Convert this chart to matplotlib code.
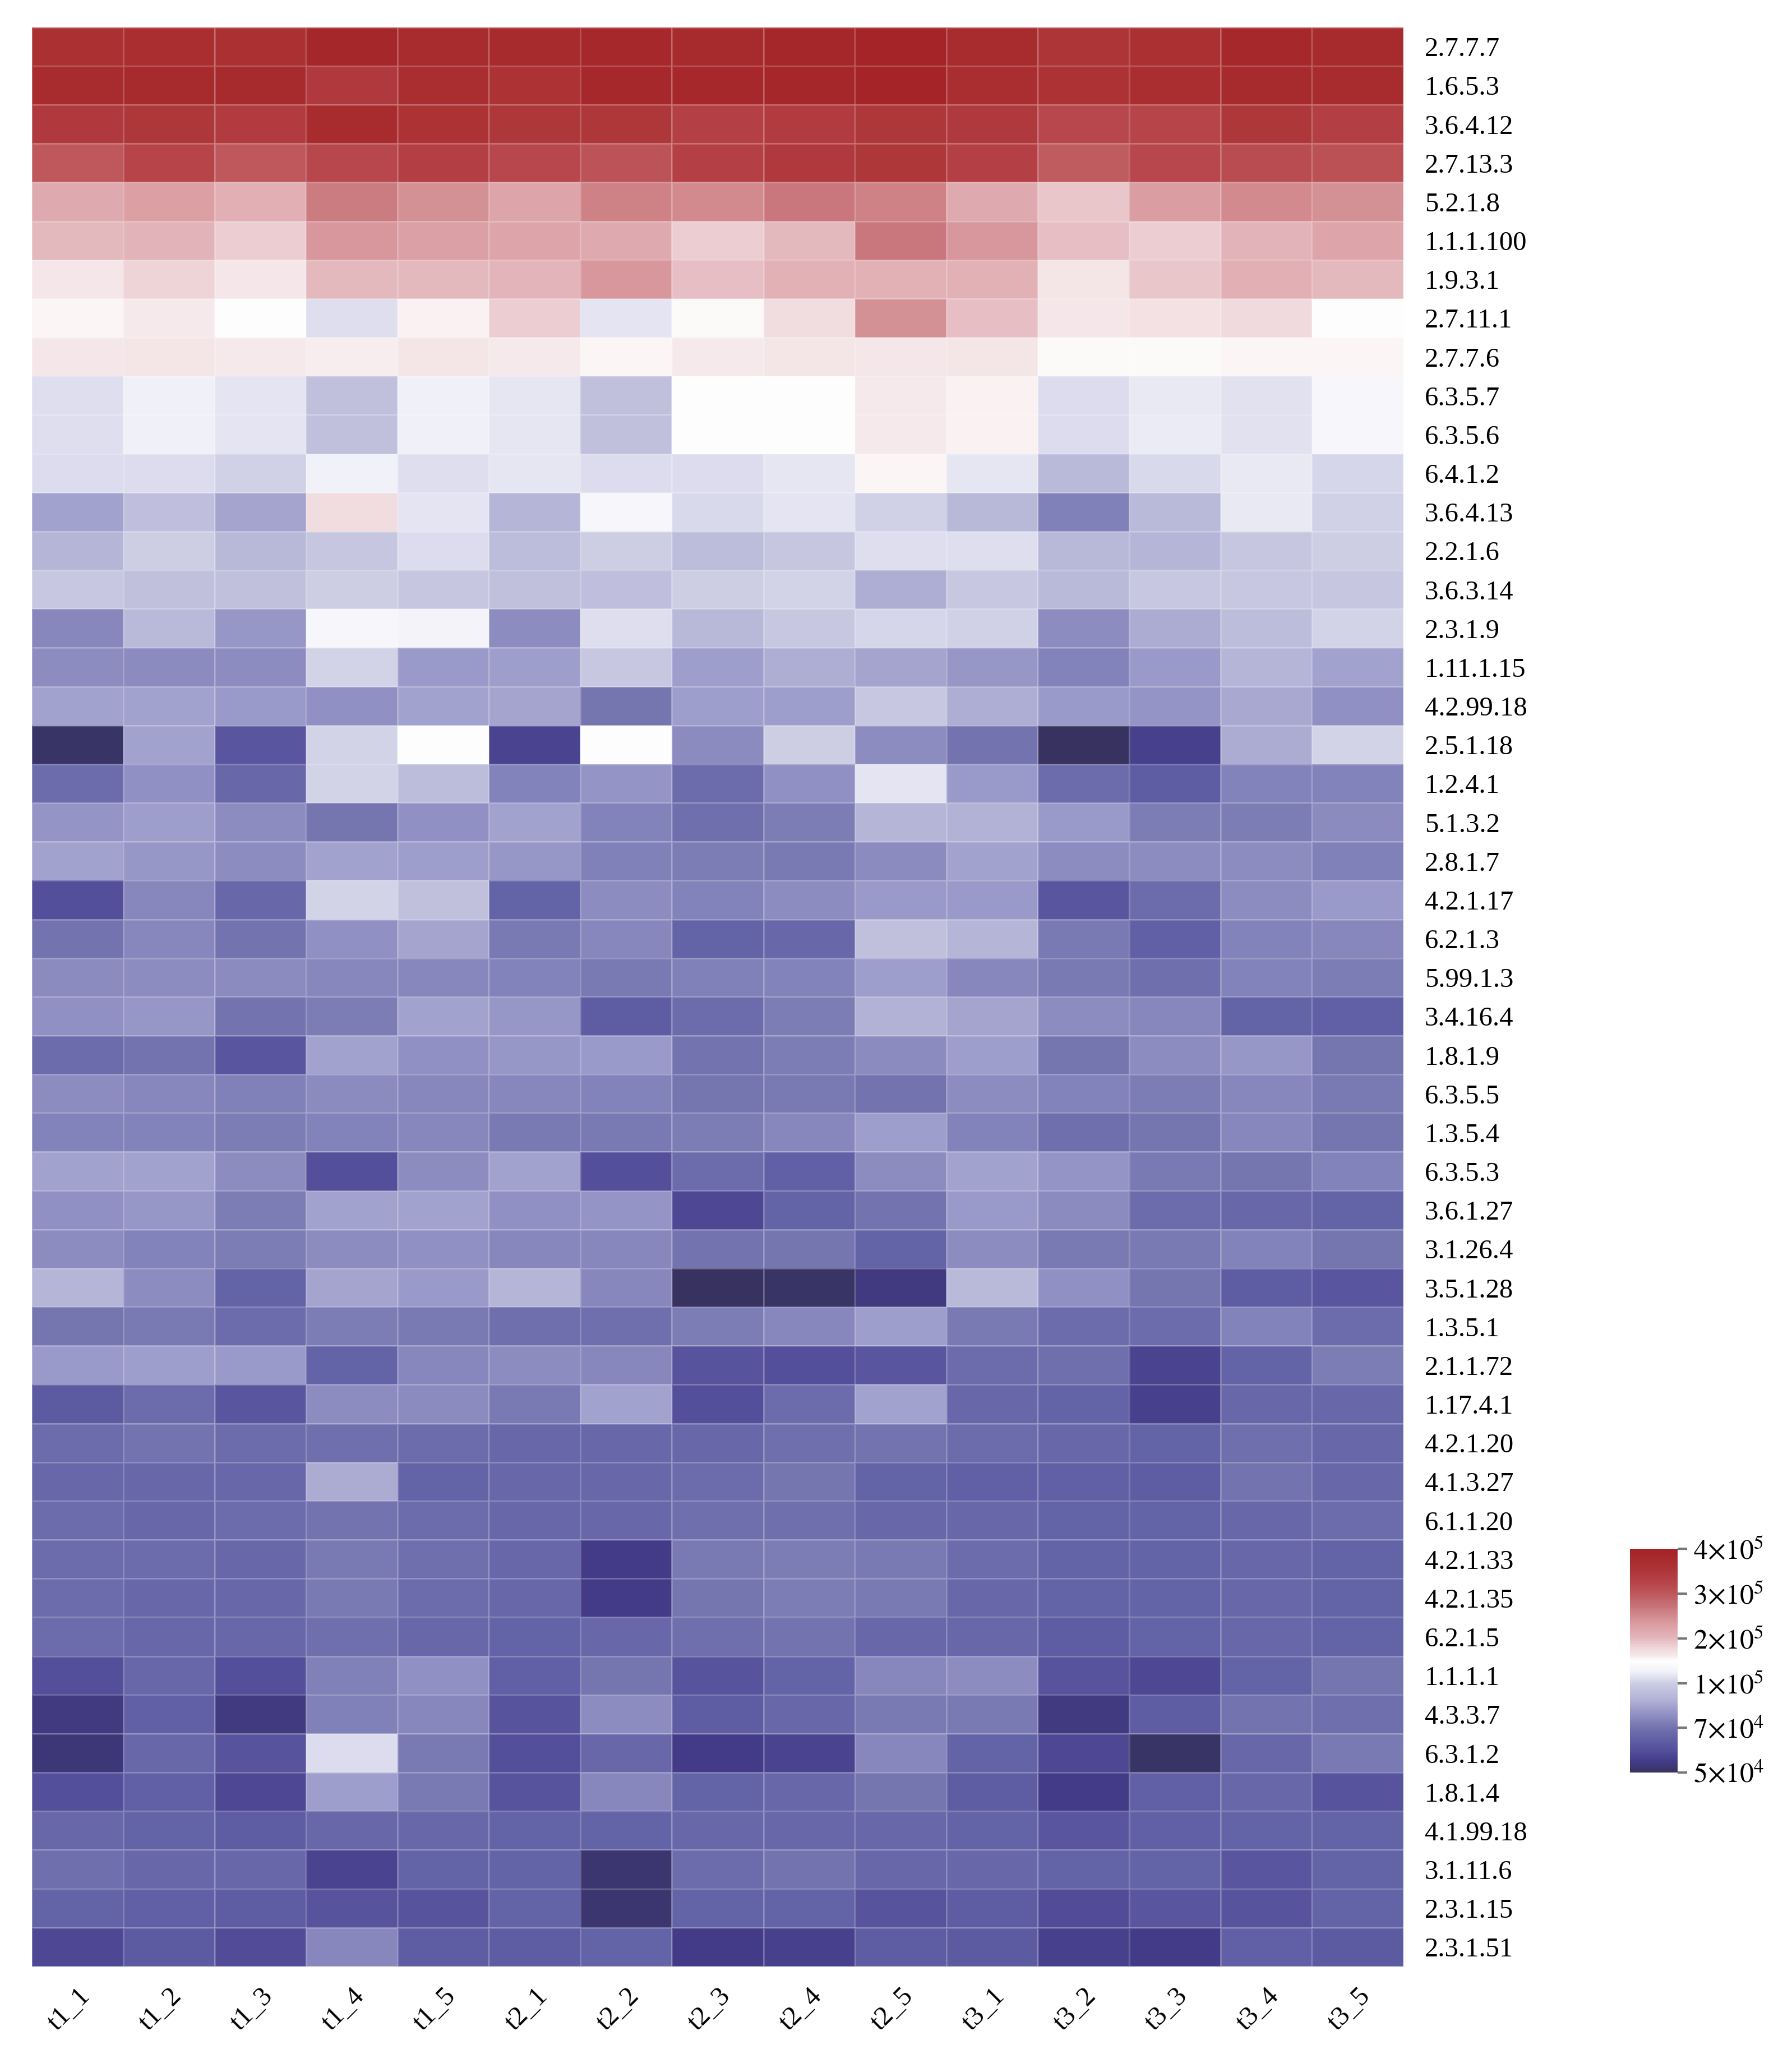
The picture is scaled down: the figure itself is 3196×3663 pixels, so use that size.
# heatmap of EC abundances across samples
import numpy as np
import matplotlib
matplotlib.use('Agg')
import matplotlib.pyplot as plt
from matplotlib import colors

plt.rcParams['font.family'] = ['Liberation Serif', 'DejaVu Serif']
plt.rcParams['mathtext.fontset'] = 'stix'

samples = ['t1_1', 't1_2', 't1_3', 't1_4', 't1_5',
           't2_1', 't2_2', 't2_3', 't2_4', 't2_5',
           't3_1', 't3_2', 't3_3', 't3_4', 't3_5']

ec_numbers = ['2.7.7.7', '1.6.5.3', '3.6.4.12', '2.7.13.3', '5.2.1.8', '1.1.1.100',
              '1.9.3.1', '2.7.11.1', '2.7.7.6', '6.3.5.7', '6.3.5.6', '6.4.1.2',
              '3.6.4.13', '2.2.1.6', '3.6.3.14', '2.3.1.9', '1.11.1.15', '4.2.99.18',
              '2.5.1.18', '1.2.4.1', '5.1.3.2', '2.8.1.7', '4.2.1.17', '6.2.1.3',
              '5.99.1.3', '3.4.16.4', '1.8.1.9', '6.3.5.5', '1.3.5.4', '6.3.5.3',
              '3.6.1.27', '3.1.26.4', '3.5.1.28', '1.3.5.1', '2.1.1.72', '1.17.4.1',
              '4.2.1.20', '4.1.3.27', '6.1.1.20', '4.2.1.33', '4.2.1.35', '6.2.1.5',
              '1.1.1.1', '4.3.3.7', '6.3.1.2', '1.8.1.4', '4.1.99.18', '3.1.11.6',
              '2.3.1.15', '2.3.1.51']

# abundance in thousands, one row per EC number, columns follow samples
abundance_k = [
    [365, 370, 365, 390, 375, 380, 385, 380, 390, 395, 375, 355, 365, 385, 380],
    [375, 380, 380, 345, 370, 360, 385, 385, 390, 395, 370, 360, 370, 380, 375],
    [345, 350, 340, 375, 360, 350, 350, 330, 340, 350, 345, 320, 325, 350, 335],
    [300, 325, 300, 320, 335, 320, 305, 330, 345, 350, 330, 295, 320, 315, 310],
    [215, 230, 210, 265, 245, 222, 258, 250, 268, 258, 215, 190, 232, 250, 245],
    [200, 205, 185, 238, 228, 222, 215, 185, 200, 268, 238, 196, 185, 206, 222],
    [162, 180, 162, 200, 200, 203, 238, 195, 208, 208, 208, 165, 190, 210, 200],
    [155, 160, 148, 112, 157, 185, 115, 153, 172, 245, 196, 162, 168, 175, 150],
    [163, 165, 160, 158, 165, 160, 155, 160, 165, 162, 164, 152, 152, 154, 155],
    [112, 125, 115, 95, 125, 118, 95, 150, 150, 160, 157, 110, 120, 114, 135],
    [112, 125, 115, 95, 125, 118, 95, 150, 150, 160, 157, 110, 122, 114, 135],
    [110, 110, 102, 128, 112, 118, 110, 110, 118, 155, 118, 92, 108, 120, 106],
    [84, 94, 85, 172, 116, 90, 135, 108, 116, 102, 91, 74, 92, 120, 103],
    [90, 100, 91, 97, 110, 93, 100, 93, 97, 111, 111, 91, 90, 97, 100],
    [98, 95, 95, 100, 97, 95, 94, 100, 104, 88, 98, 92, 98, 98, 97],
    [76, 92, 81, 135, 130, 78, 112, 91, 98, 106, 102, 78, 87, 93, 104],
    [78, 77, 78, 104, 82, 83, 98, 83, 88, 85, 81, 75, 82, 90, 84],
    [84, 84, 82, 79, 84, 85, 71, 83, 83, 98, 88, 82, 80, 86, 79],
    [51, 84, 62, 104, 148, 57, 150, 77, 100, 78, 70, 50, 56, 87, 104],
    [68, 79, 67, 104, 93, 75, 80, 68, 79, 115, 82, 68, 64, 75, 75],
    [80, 83, 78, 71, 79, 84, 75, 69, 73, 90, 89, 82, 73, 73, 77],
    [84, 81, 78, 84, 83, 81, 74, 73, 72, 77, 84, 78, 78, 78, 74],
    [60, 76, 67, 104, 95, 66, 78, 75, 78, 82, 82, 62, 68, 78, 82],
    [70, 76, 70, 79, 85, 72, 76, 66, 67, 95, 90, 72, 65, 75, 76],
    [77, 78, 77, 76, 76, 75, 72, 74, 75, 83, 76, 72, 69, 75, 73],
    [79, 81, 70, 73, 84, 81, 64, 68, 73, 89, 85, 78, 76, 66, 65],
    [68, 70, 62, 84, 79, 81, 82, 70, 73, 77, 83, 71, 78, 81, 71],
    [78, 76, 74, 77, 76, 76, 75, 71, 72, 70, 78, 75, 73, 76, 72],
    [75, 75, 73, 75, 76, 72, 72, 73, 76, 83, 75, 69, 71, 76, 71],
    [84, 84, 78, 60, 78, 84, 60, 68, 65, 78, 84, 80, 72, 71, 75],
    [79, 81, 73, 84, 84, 79, 80, 58, 66, 70, 82, 77, 68, 67, 66],
    [78, 75, 73, 78, 79, 76, 76, 70, 71, 66, 78, 72, 72, 75, 71],
    [90, 78, 66, 85, 82, 90, 76, 50, 51, 54, 92, 79, 71, 64, 62],
    [71, 72, 68, 73, 72, 69, 69, 73, 76, 83, 72, 68, 68, 75, 68],
    [82, 83, 82, 66, 76, 78, 76, 61, 60, 62, 68, 69, 57, 66, 73],
    [63, 68, 62, 78, 77, 72, 84, 60, 68, 84, 67, 66, 56, 67, 67],
    [68, 70, 68, 69, 68, 67, 67, 67, 69, 70, 68, 67, 66, 69, 67],
    [67, 67, 67, 87, 66, 67, 67, 68, 71, 66, 65, 65, 64, 70, 67],
    [68, 67, 68, 70, 68, 67, 67, 69, 69, 67, 67, 66, 66, 67, 68],
    [68, 68, 67, 72, 69, 67, 55, 72, 73, 72, 68, 66, 66, 67, 66],
    [68, 67, 67, 72, 68, 67, 55, 71, 73, 72, 67, 66, 66, 67, 66],
    [68, 67, 67, 69, 67, 66, 67, 69, 70, 67, 67, 64, 66, 67, 66],
    [60, 67, 60, 74, 79, 65, 71, 61, 66, 76, 78, 61, 58, 66, 71],
    [54, 65, 54, 74, 76, 61, 78, 64, 67, 72, 72, 54, 64, 70, 69],
    [53, 67, 61, 110, 72, 60, 67, 55, 57, 76, 66, 58, 51, 67, 72],
    [60, 65, 58, 83, 72, 61, 76, 66, 67, 71, 64, 55, 65, 67, 61],
    [67, 66, 64, 67, 67, 66, 66, 67, 67, 67, 66, 62, 65, 66, 66],
    [69, 67, 67, 57, 66, 66, 52, 68, 70, 67, 67, 66, 66, 62, 66],
    [66, 65, 64, 61, 61, 66, 52, 66, 66, 61, 64, 59, 62, 61, 66],
    [58, 63, 59, 76, 64, 64, 66, 55, 56, 64, 63, 56, 55, 65, 63],
]

# colorbar ticks are spaced evenly, so the scale is piecewise linear between them
cbar_ticks = [5e4, 7e4, 1e5, 2e5, 3e5, 4e5]
tick_pos = [0, 0.2, 0.4, 0.6, 0.8, 1.0]

data = np.array(abundance_k) * 1000.0

def fwd(v):
    return np.interp(v, cbar_ticks, tick_pos)

def inv(p):
    return np.interp(p, tick_pos, cbar_ticks)

norm = colors.FuncNorm((fwd, inv), vmin=cbar_ticks[0], vmax=cbar_ticks[-1])

cmap = colors.LinearSegmentedColormap.from_list('bwr_navy', [
    (0.00, '#37325f'),
    (0.05, '#443c8a'),
    (0.10, '#55509b'),
    (0.16, '#6464a8'),
    (0.20, '#7373af'),
    (0.24, '#8787be'),
    (0.29, '#a0a0cd'),
    (0.33, '#b4b4d7'),
    (0.40, '#cdcde4'),
    (0.42, '#dcdcee'),
    (0.45, '#f0f0f8'),
    (0.50, '#ffffff'),
    (0.52, '#f6eaec'),
    (0.56, '#eed4d7'),
    (0.60, '#e4b9be'),
    (0.62, '#e1afb4'),
    (0.68, '#d7969b'),
    (0.74, '#c8767a'),
    (0.80, '#be585c'),
    (0.86, '#b44146'),
    (0.92, '#ac3234'),
    (1.00, '#a32326'),
])

fig = plt.figure(figsize=(31.96, 36.63), dpi=100)
ax = fig.add_axes([0.0178, 0.0426, 0.7654, 0.9441])

mesh = ax.pcolormesh(data, cmap=cmap, norm=norm,
                     edgecolors=(1, 1, 1, 0.18), linewidth=0.8)
ax.set_xlim(0, len(samples))
ax.set_ylim(len(ec_numbers), 0)

for s in ax.spines.values():
    s.set_visible(False)

ax.yaxis.tick_right()
ax.set_yticks(np.arange(len(ec_numbers)) + 0.5)
ax.set_yticklabels(ec_numbers, fontsize=35)
ax.tick_params(axis='y', length=0, pad=27)

ax.set_xticks(np.arange(len(samples)) + 0.5)
ax.set_xticklabels(samples, fontsize=35, rotation=45, ha='right', va='top',
                   rotation_mode='anchor')
ax.tick_params(axis='x', length=0, pad=22)

cax = fig.add_axes([0.9096, 0.1370, 0.0266, 0.1089])
cb = fig.colorbar(mesh, cax=cax)
cb.outline.set_visible(False)
cb.set_ticks(cbar_ticks)
cb.set_ticklabels([r'$5{\times}10^{4}$', r'$7{\times}10^{4}$', r'$1{\times}10^{5}$',
                   r'$2{\times}10^{5}$', r'$3{\times}10^{5}$', r'$4{\times}10^{5}$'])
cb.ax.tick_params(labelsize=36, length=12, width=3, color='#777777', pad=8)
cb.ax.minorticks_off()

fig.savefig('out.png', dpi=100)
